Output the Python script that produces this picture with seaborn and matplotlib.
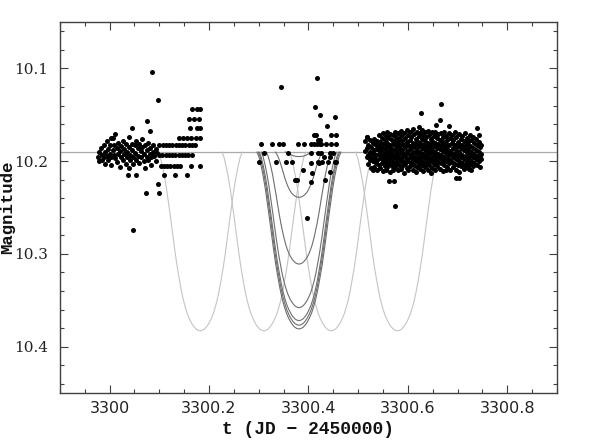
import numpy as np
import pandas as pd
import matplotlib
matplotlib.use("Agg")
import matplotlib.pyplot as plt
from matplotlib.ticker import MultipleLocator, FuncFormatter
import seaborn as sns

T0 = 3300.0          # times below are offsets from JD 2453300
BASELINE = 10.19     # out-of-eclipse magnitude

# first night, diffuse part: one time per column, magnitudes stacked in that column
LEFT_COL_T = [-0.024, -0.021, -0.018, -0.015, -0.012, -0.009, -0.006, -0.003, 0.000,
              0.003, 0.006, 0.009, 0.012, 0.015, 0.018, 0.021, 0.024, 0.027, 0.030,
              0.033, 0.036, 0.039, 0.042, 0.045, 0.048, 0.051, 0.054, 0.057, 0.060,
              0.063, 0.066, 0.069, 0.072, 0.075, 0.078, 0.081, 0.084, 0.087, 0.090,
              0.093, 0.096]
LEFT_COL_MAG = [
    [10.195], [10.190, 10.200], [10.186], [10.193, 10.199], [10.183, 10.196],
    [10.190, 10.203], [10.178, 10.194], [10.187, 10.199], [10.183, 10.192],
    [10.175, 10.196, 10.204], [10.188], [10.182, 10.193], [10.171, 10.197],
    [10.186, 10.201], [10.180, 10.192], [10.189, 10.206], [10.184, 10.195],
    [10.178, 10.199], [10.187, 10.192], [10.181, 10.203], [10.190, 10.196],
    [10.174, 10.185, 10.207], [10.193, 10.199], [10.181, 10.188], [10.196, 10.203],
    [10.183, 10.191], [10.178, 10.199], [10.186, 10.194], [10.181, 10.202],
    [10.189, 10.196], [10.176, 10.185], [10.192, 10.200], [10.183, 10.207],
    [10.188, 10.195], [10.180, 10.199], [10.186, 10.192], [10.196, 10.204],
    [10.183, 10.190], [10.194], [10.187, 10.200], [10.191],
]

# first night, quantised rows
ROW_MAG = [10.144, 10.154, 10.164, 10.175, 10.182, 10.193, 10.205, 10.215]
ROW_T = [
    [0.166, 0.175, 0.182],
    [0.159, 0.170, 0.179],
    [0.161, 0.175, 0.181],
    [0.139, 0.147, 0.156, 0.164, 0.174, 0.182],
    [0.100, 0.107, 0.113, 0.120, 0.126, 0.133, 0.139, 0.146, 0.152, 0.159, 0.165, 0.171],
    [0.100, 0.106, 0.113, 0.119, 0.126, 0.132, 0.139, 0.145, 0.152, 0.158, 0.165],
    [0.103, 0.109, 0.116, 0.122, 0.129, 0.135, 0.141, 0.163, 0.182],
    [0.037, 0.054, 0.109, 0.131, 0.156],
]
LEFT_EXTRA_T = [0.0855, 0.0966, 0.047, 0.0744, 0.0724, 0.0998, 0.0966, 0.045, 0.081, 0.006]
LEFT_EXTRA_MAG = [10.104, 10.134, 10.274, 10.157, 10.234, 10.234, 10.225, 10.164, 10.167, 10.175]

# middle night
MID_T = [0.3455, 0.418, 0.414, 0.4225, 0.454, 0.437, 0.4105, 0.4145, 0.446, 0.456, 0.4185, 0.4225,
         0.305, 0.327, 0.341, 0.349, 0.380, 0.392, 0.406, 0.412, 0.417, 0.4225, 0.426, 0.436, 0.446, 0.455,
         0.310, 0.358, 0.406, 0.419, 0.426, 0.443, 0.449,
         0.4305, 0.443,
         0.300, 0.334, 0.354, 0.3675, 0.419, 0.428, 0.439, 0.453, 0.456,
         0.406, 0.421, 0.390, 0.443, 0.407, 0.3735, 0.3775, 0.4325, 0.406, 0.397]
MID_MAG = [10.120, 10.110, 10.141, 10.150, 10.152, 10.162, 10.172, 10.172, 10.172, 10.172, 10.177, 10.177,
           10.181, 10.181, 10.181, 10.181, 10.181, 10.181, 10.181, 10.181, 10.181, 10.181, 10.181, 10.181,
           10.181, 10.181,
           10.191, 10.191, 10.191, 10.191, 10.191, 10.191, 10.191,
           10.195, 10.195,
           10.201, 10.201, 10.201, 10.201, 10.201, 10.201, 10.201, 10.201, 10.201,
           10.202, 10.202, 10.210, 10.212, 10.213, 10.220, 10.220, 10.220, 10.222, 10.261]

# last night, dense block
RIGHT_COL_T = [0.514, 0.517, 0.520, 0.523, 0.526, 0.529, 0.532, 0.535, 0.538, 0.541, 0.544,
               0.547, 0.550, 0.553, 0.556, 0.559, 0.562, 0.565, 0.568, 0.571, 0.574, 0.577,
               0.580, 0.583, 0.586, 0.589, 0.592, 0.595, 0.598, 0.601, 0.604, 0.607, 0.610,
               0.613, 0.616, 0.619, 0.622, 0.625, 0.628, 0.631, 0.634, 0.637, 0.640, 0.643,
               0.646, 0.649, 0.652, 0.655, 0.658, 0.661, 0.664, 0.667, 0.670, 0.673, 0.676,
               0.679, 0.682, 0.685, 0.688, 0.691, 0.694, 0.697, 0.700, 0.703, 0.706, 0.709,
               0.712, 0.715, 0.718, 0.721, 0.724, 0.727, 0.730, 0.733, 0.736, 0.739, 0.742,
               0.745, 0.748]
RIGHT_COL_MAG = [
    [10.178, 10.189], [10.174, 10.186, 10.196], [10.182, 10.193, 10.203], [10.177, 10.190, 10.199],
    [10.185, 10.195, 10.207], [10.180, 10.191, 10.200], [10.176, 10.188, 10.197, 10.206],
    [10.183, 10.193, 10.202], [10.178, 10.187, 10.199, 10.210], [10.172, 10.184, 10.192, 10.204],
    [10.179, 10.189, 10.197, 10.207], [10.175, 10.186, 10.194, 10.202],
    [10.170, 10.181, 10.191, 10.199, 10.211], [10.177, 10.187, 10.196, 10.205],
    [10.173, 10.183, 10.192, 10.201, 10.209], [10.168, 10.180, 10.189, 10.198, 10.206],
    [10.175, 10.185, 10.194, 10.203], [10.171, 10.182, 10.190, 10.199, 10.212],
    [10.177, 10.187, 10.196, 10.205], [10.172, 10.181, 10.192, 10.201, 10.209],
    [10.168, 10.178, 10.188, 10.197, 10.206], [10.174, 10.184, 10.193, 10.202],
    [10.170, 10.180, 10.190, 10.199, 10.210], [10.176, 10.186, 10.195, 10.204],
    [10.167, 10.173, 10.182, 10.191, 10.200, 10.208], [10.178, 10.188, 10.197, 10.205],
    [10.170, 10.183, 10.192, 10.201, 10.213], [10.175, 10.185, 10.194, 10.203],
    [10.166, 10.179, 10.189, 10.198, 10.207], [10.172, 10.182, 10.191, 10.200, 10.210],
    [10.168, 10.177, 10.187, 10.196, 10.205], [10.174, 10.184, 10.193, 10.202],
    [10.165, 10.180, 10.190, 10.199, 10.209], [10.171, 10.185, 10.195, 10.204],
    [10.176, 10.182, 10.191, 10.200, 10.212], [10.168, 10.178, 10.188, 10.197, 10.206],
    [10.173, 10.184, 10.194, 10.203], [10.170, 10.180, 10.190, 10.199, 10.208],
    [10.166, 10.176, 10.186, 10.195, 10.204], [10.172, 10.182, 10.192, 10.201, 10.211],
    [10.169, 10.178, 10.188, 10.197, 10.206], [10.174, 10.184, 10.193, 10.202],
    [10.167, 10.180, 10.190, 10.199, 10.209], [10.172, 10.186, 10.195, 10.204],
    [10.176, 10.182, 10.191, 10.200, 10.213], [10.169, 10.178, 10.188, 10.197, 10.207],
    [10.173, 10.184, 10.194, 10.203], [10.168, 10.180, 10.190, 10.199, 10.210],
    [10.175, 10.186, 10.195, 10.205], [10.171, 10.181, 10.192, 10.201],
    [10.177, 10.187, 10.197, 10.208], [10.170, 10.183, 10.193, 10.202],
    [10.174, 10.179, 10.189, 10.199, 10.211], [10.168, 10.185, 10.195, 10.204],
    [10.173, 10.181, 10.191, 10.200, 10.209], [10.177, 10.187, 10.197, 10.206],
    [10.170, 10.183, 10.193, 10.202], [10.175, 10.189, 10.199, 10.210],
    [10.172, 10.180, 10.191, 10.201], [10.177, 10.186, 10.196, 10.206],
    [10.169, 10.182, 10.192, 10.203], [10.174, 10.188, 10.198, 10.209],
    [10.179, 10.184, 10.194, 10.204], [10.171, 10.181, 10.190, 10.200, 10.212],
    [10.176, 10.186, 10.196, 10.205], [10.173, 10.183, 10.193, 10.202],
    [10.178, 10.188, 10.198, 10.208], [10.170, 10.184, 10.195, 10.204],
    [10.175, 10.181, 10.191, 10.201], [10.179, 10.187, 10.197, 10.206],
    [10.172, 10.184, 10.194, 10.203], [10.177, 10.190, 10.200, 10.210],
    [10.174, 10.186, 10.196, 10.205], [10.180, 10.192, 10.202], [10.176, 10.188, 10.198],
    [10.182, 10.194, 10.204], [10.179, 10.190, 10.200], [10.185, 10.195, 10.206],
    [10.183, 10.192],
]
RIGHT_EXTRA_T = [0.667, 0.6258, 0.664, 0.6566, 0.683, 0.6224, 0.739, 0.5734, 0.562, 0.5714,
                 0.6976, 0.703, 0.530, 0.722, 0.748, 0.7425, 0.518]
RIGHT_EXTRA_MAG = [10.138, 10.148, 10.156, 10.161, 10.162, 10.1635, 10.164, 10.248, 10.221, 10.221,
                   10.2185, 10.2185, 10.209, 10.2085, 10.198, 10.172, 10.174]

# model eclipse curves: shape (fraction of half-width -> fraction of depth)
PROFILE_U = [0, 0.05, 0.1, 0.15, 0.2, 0.25, 0.3, 0.35, 0.4, 0.45, 0.5,
             0.55, 0.6, 0.65, 0.7, 0.75, 0.8, 0.85, 0.9, 0.95, 1.0]
PROFILE_F = [1.0, 0.997, 0.99, 0.977, 0.96, 0.937, 0.91, 0.873, 0.83, 0.775, 0.71,
             0.64, 0.56, 0.47, 0.38, 0.295, 0.21, 0.14, 0.08, 0.03, 0.0]
LIGHT_CENTRES = [0.1825, 0.3105, 0.446, 0.579]
LIGHT_MIN = 10.383
LIGHT_HALFWIDTH = 0.0845
DARK_CENTRE = 0.381
DARK_MIN = [10.195, 10.239, 10.311, 10.358, 10.372, 10.377, 10.381]
DARK_HALFWIDTH = [0.028, 0.048, 0.066, 0.076, 0.080, 0.082, 0.0845]


def eclipse_curve(centre, min_mag, half):
    u = np.array(PROFILE_U)
    f = np.array(PROFILE_F)
    du = np.concatenate([-u[::-1], u[1:]]) * half
    ff = np.concatenate([f[::-1], f[1:]])
    return T0 + centre + du, BASELINE + (min_mag - BASELINE) * ff


def build_points():
    t, m = [], []
    for ct, mags in zip(LEFT_COL_T, LEFT_COL_MAG):
        t += [ct] * len(mags)
        m += mags
    for rm, ts in zip(ROW_MAG, ROW_T):
        t += ts
        m += [rm] * len(ts)
    t += LEFT_EXTRA_T + MID_T + RIGHT_EXTRA_T
    m += LEFT_EXTRA_MAG + MID_MAG + RIGHT_EXTRA_MAG
    for ct, mags in zip(RIGHT_COL_T, RIGHT_COL_MAG):
        t += [ct] * len(mags)
        m += mags
    return pd.DataFrame({"t": np.array(t) + T0, "mag": m})


sns.set_theme(style="ticks")
plt.rcParams["font.family"] = ["DejaVu Sans"]

fig, ax = plt.subplots(figsize=(5.92, 4.43), dpi=100)
fig.subplots_adjust(left=0.101, right=0.941, top=0.950, bottom=0.113)

ax.axhline(BASELINE, color="#a8a8a8", lw=0.9, zorder=1)

for c in LIGHT_CENTRES:
    x, y = eclipse_curve(c, LIGHT_MIN, LIGHT_HALFWIDTH)
    sns.lineplot(x=x, y=y, color="#c4c4c4", lw=0.8, estimator=None, ax=ax, zorder=1)
for mn, hw in zip(DARK_MIN, DARK_HALFWIDTH):
    x, y = eclipse_curve(DARK_CENTRE, mn, hw)
    sns.lineplot(x=x, y=y, color="#6e6e6e", lw=0.8, estimator=None, ax=ax, zorder=2)

pts = build_points()
sns.scatterplot(data=pts, x="t", y="mag", color="black", s=13, linewidth=0,
                ax=ax, zorder=3, legend=False)

ax.set_xlim(3299.9, 3300.9)
ax.set_ylim(10.45, 10.05)
ax.xaxis.set_major_locator(MultipleLocator(0.2))
ax.xaxis.set_minor_locator(MultipleLocator(0.05))
ax.yaxis.set_major_locator(MultipleLocator(0.1))
ax.yaxis.set_minor_locator(MultipleLocator(0.02))
ax.xaxis.set_major_formatter(FuncFormatter(lambda v, p: f"{v:g}"))
ax.yaxis.set_major_formatter(FuncFormatter(lambda v, p: f"{v:g}"))

frame = "#404040"
for s in ax.spines.values():
    s.set_color(frame)
    s.set_linewidth(1.0)
ax.tick_params(which="both", direction="in", top=True, right=True, color=frame, width=0.8)
ax.tick_params(which="major", length=6)
ax.tick_params(which="minor", length=3.2)
ax.tick_params(axis="x", which="major", pad=6, labelsize=11.5, labelcolor="#222222")
ax.tick_params(axis="y", which="major", pad=8.5, labelsize=11, labelcolor="#222222")
for lab in ax.get_yticklabels():
    lab.set_family("DejaVu Serif")

ax.set_xlabel("t (JD \u2212 2450000)", family="Liberation Mono", fontweight="bold",
              fontsize=13, color="#111111")
ax.set_ylabel("Magnitude", family="Liberation Mono", fontweight="bold",
              fontsize=12.5, color="#111111")
ax.xaxis.set_label_coords(0.5, -0.076)
ax.yaxis.set_label_coords(-0.089, 0.5)

fig.savefig("out.png", dpi=100)
